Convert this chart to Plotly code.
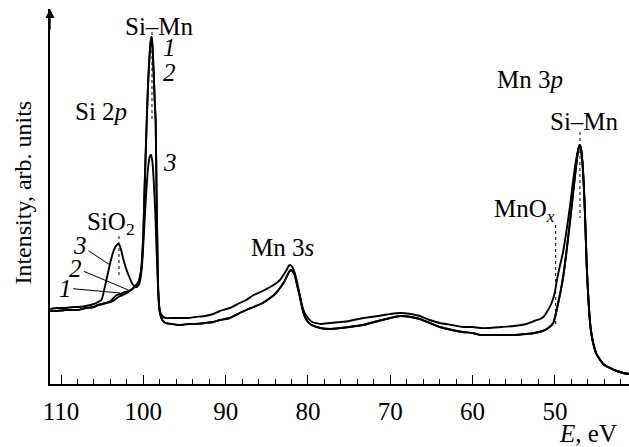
import plotly.graph_objects as go

# ---------------- data ----------------
# binding energy (eV) grid for curves 1 and 2
energy_12 = [111.3, 110.5, 109.5, 108.5, 107.9, 107.0, 106.0, 105.5, 104.5, 104.0,
             103.5, 103.2, 102.8, 102.2, 101.8, 101.2, 100.6, 100.3, 100.15, 100.0,
             99.88, 99.7, 99.55, 99.4, 99.25, 99.1, 99.0, 98.9, 98.75, 98.6,
             98.5, 98.4, 98.3, 98.2, 98.0, 97.7, 97.3, 96.5, 95.5, 94.5,
             93.7, 92.5, 91.5, 90.7, 89.5, 88.3, 87.5, 86.6, 85.5, 84.6,
             84.0, 83.4, 82.9, 82.6, 82.3, 82.1, 81.9, 81.6, 81.3, 80.97,
             80.7, 80.36, 80.0, 79.55, 78.5, 77.3, 76.0, 75.0, 73.3, 71.5,
             70.0, 68.8, 67.5, 66.4, 65.2, 64.0, 62.5, 61.2, 60.0, 59.1,
             58.0, 56.5, 55.0, 53.5, 52.5, 51.5, 50.8, 50.2, 49.6, 49.0,
             48.6, 48.2, 47.8, 47.4, 47.15, 47.0, 46.85, 46.65, 46.5, 46.35,
             46.15, 46.0, 45.8, 45.6, 45.35, 45.0, 44.5, 44.0, 43.3, 42.5,
             41.7, 41.0]

intensity_1 = [73, 73, 74, 74, 74, 76, 77, 79, 81, 82,
               84, 86, 88, 90, 92, 96, 102, 112, 125, 150,
               187, 235, 272, 305, 328, 343, 347, 340, 312, 280,
               262, 195, 140, 95, 72, 64, 61, 60, 59, 60,
               60, 61, 62, 64, 66, 71, 74, 77, 81, 86,
               90, 96, 102, 107, 112, 114, 113, 109, 98, 87,
               76, 67, 62, 59, 56, 55, 56, 57, 59, 63,
               66, 68, 67, 65, 61, 57, 54, 52, 51, 49,
               49, 49, 49, 50, 51, 53, 56, 61, 81, 107,
               132, 160, 190, 220, 235, 239, 236, 221, 200, 171,
               121, 95, 68, 52, 41, 31, 24, 19, 16, 13,
               11, 10]

intensity_2 = [73, 73, 74, 74, 74, 76, 77, 79, 81, 83,
               87, 89, 90, 92, 93, 96, 102, 112, 125, 150,
               187, 235, 272, 305, 328, 343, 347, 340, 312, 280,
               262, 195, 140, 95, 72, 64, 61, 60, 59, 60,
               60, 61, 62, 64, 66, 71, 74, 77, 81, 86,
               90, 96, 102, 107, 112, 114, 113, 109, 98, 87,
               76, 67, 62, 59, 56, 55, 56, 57, 59, 63,
               66, 68, 67, 65, 61, 57, 54, 52, 51, 49,
               49, 49, 49, 50, 51, 53, 56, 61, 81, 107,
               132, 160, 190, 220, 235, 239, 236, 221, 200, 171,
               121, 95, 68, 52, 41, 31, 24, 19, 16, 13,
               11, 10]

# curve 3
energy_3 = [111.3, 110.5, 109.5, 108.5, 107.9, 107.0, 106.0, 105.5, 105.1, 104.9,
            104.6, 104.3, 104.0, 103.7, 103.4, 103.1, 102.9, 102.7, 102.5, 102.2,
            101.9, 101.6, 101.4, 101.1, 100.8, 100.5, 100.3, 100.15, 100.0, 99.8,
            99.6, 99.4, 99.2, 99.05, 98.9, 98.75, 98.6, 98.5, 98.4, 98.3,
            98.2, 98.0, 97.7, 97.3, 96.5, 95.5, 94.5, 93.7, 92.5, 91.5,
            90.7, 89.5, 88.3, 87.5, 86.6, 85.5, 84.6, 84.0, 83.4, 82.9,
            82.6, 82.35, 82.15, 81.9, 81.6, 81.3, 81.0, 80.7, 80.4, 80.0,
            79.5, 78.5, 77.3, 76.0, 75.0, 73.3, 71.5, 70.0, 68.8, 67.5,
            66.4, 65.2, 64.0, 62.5, 61.2, 60.0, 59.1, 58.0, 56.5, 55.0,
            53.5, 52.5, 51.8, 51.4, 50.9, 50.4, 50.0, 49.76, 49.4, 49.03,
            48.58, 48.18, 47.78, 47.37, 47.15, 47.0, 46.85, 46.65, 46.5, 46.35,
            46.15, 46.0, 45.8, 45.6, 45.35, 45.0, 44.5, 44.0, 43.3, 42.5,
            41.7, 41.0]

intensity_3 = [75, 76, 76, 77, 77, 78, 80, 82, 84, 89,
               100, 111, 122, 131, 137, 140, 139, 134, 127, 118,
               111, 105, 101, 98, 97, 100, 108, 120, 140, 170,
               198, 218, 228, 229, 222, 205, 180, 160, 135, 115,
               93, 73, 68, 66, 66, 66, 66, 67, 68, 70,
               73, 76, 81, 84, 89, 93, 97, 100, 104, 110,
               114, 118, 119, 117, 111, 101, 89, 78, 71, 66,
               62, 60, 61, 62, 63, 66, 68, 70, 71, 70,
               68, 64, 61, 59, 57, 57, 56, 56, 57, 58,
               60, 63, 65, 67, 73, 81, 92, 104, 118, 131,
               154, 177, 204, 227, 235, 239, 236, 221, 200, 171,
               121, 95, 68, 52, 41, 31, 24, 19, 16, 13,
               11, 10]

x_range = [111.34, 41.0]
y_range = [0, 375]
major_ticks = [110, 100, 90, 80, 70, 60, 50]
tick_labels = ["110", "100", "90", "80", "70", "60", "50"]

# labels: (text, energy, intensity)
peak_labels = [
    ("Si\u2013Mn", 97.98, 358),
    ("Si 2<i>p</i>", 105.14, 273),
    ("SiO<sub>2</sub>", 103.93, 161),
    ("Mn 3<i>s</i>", 83.04, 137),
    ("Mn 3<i>p</i>", 53.0, 305),
    ("Si\u2013Mn", 46.35, 263),
    ("MnO<sub><i>x</i></sub>", 53.64, 174),
]
curve_numbers_top = [("<i>1</i>", 96.88, 337), ("<i>2</i>", 96.88, 312), ("<i>3</i>", 96.76, 222)]
# numbered labels with leader lines: (text, label E, label I, pointer E, pointer I)
curve_numbers_left = [
    ("<i>3</i>", 107.7, 139, 104.05, 119),
    ("<i>2</i>", 108.2, 116, 101.82, 94),
    ("<i>1</i>", 109.5, 96, 102.83, 91),
]
# dotted marker lines: (E, I from, I to)
marker_lines = [(98.95, 352, 264), (102.96, 148, 109), (49.91, 159, 59), (46.96, 252, 166)]

FONT = "Liberation Serif"
LABEL_SIZE = 25

fig = go.Figure()
for e, inten in [(energy_12, intensity_1), (energy_12, intensity_2), (energy_3, intensity_3)]:
    fig.add_trace(go.Scatter(x=e, y=inten, mode="lines",
                             line=dict(color="black", width=1.9, shape="spline", smoothing=0.4),
                             showlegend=False, hoverinfo="skip"))

for e, i0, i1 in marker_lines:
    fig.add_shape(type="line", x0=e, x1=e, y0=i0, y1=i1, xref="x", yref="y",
                  line=dict(color="black", width=1, dash="dot"))

for txt, e, i in peak_labels:
    fig.add_annotation(x=e, y=i, text=txt, showarrow=False,
                       font=dict(family=FONT, size=LABEL_SIZE, color="black"))
for txt, e, i in curve_numbers_top:
    fig.add_annotation(x=e, y=i, text=txt, showarrow=False,
                       font=dict(family=FONT, size=LABEL_SIZE, color="black"))
for txt, le, li, pe, pi in curve_numbers_left:
    fig.add_annotation(x=pe, y=pi, ax=le, ay=li, axref="x", ayref="y", text=txt,
                       showarrow=True, arrowhead=0, arrowwidth=1, arrowcolor="black",
                       font=dict(family=FONT, size=LABEL_SIZE, color="black"))

# y-axis arrow head
fig.add_annotation(x=0, y=1, xref="paper", yref="paper", ax=0, ay=22, text="",
                   showarrow=True, arrowhead=2, arrowsize=1.3, arrowwidth=1.4, arrowcolor="black")
# axis titles
fig.add_annotation(x=-0.047, y=0.51, xref="paper", yref="paper", xanchor="center", yanchor="middle",
                   text="Intensity, arb. units", textangle=-90, showarrow=False,
                   font=dict(family=FONT, size=24, color="black"))
fig.add_annotation(x=0.929, y=-0.131, xref="paper", yref="paper", xanchor="center", yanchor="middle",
                   text="<i>E</i>, eV", showarrow=False,
                   font=dict(family=FONT, size=LABEL_SIZE, color="black"))

fig.update_layout(
    width=629, height=447,
    margin=dict(l=50, r=0, t=9, b=63),
    paper_bgcolor="white", plot_bgcolor="white",
    xaxis=dict(range=x_range, tickmode="array", tickvals=major_ticks, ticktext=tick_labels,
               ticks="inside", ticklen=9, tickwidth=1.3, tickcolor="black",
               minor=dict(dtick=2, tick0=0, ticks="inside", ticklen=5, tickwidth=1, tickcolor="black"),
               showline=True, linecolor="black", linewidth=1.5, showgrid=False, zeroline=False,
               tickfont=dict(family=FONT, size=LABEL_SIZE, color="black"), ticklabelstandoff=4,
               automargin=False),
    yaxis=dict(range=y_range, showticklabels=False, ticks="", showline=True, linecolor="black",
               linewidth=1.5, showgrid=False, zeroline=False, automargin=False),
)

fig.write_html("out.html", config={"displayModeBar": False},
               post_script="document.body.style.margin='0';")
